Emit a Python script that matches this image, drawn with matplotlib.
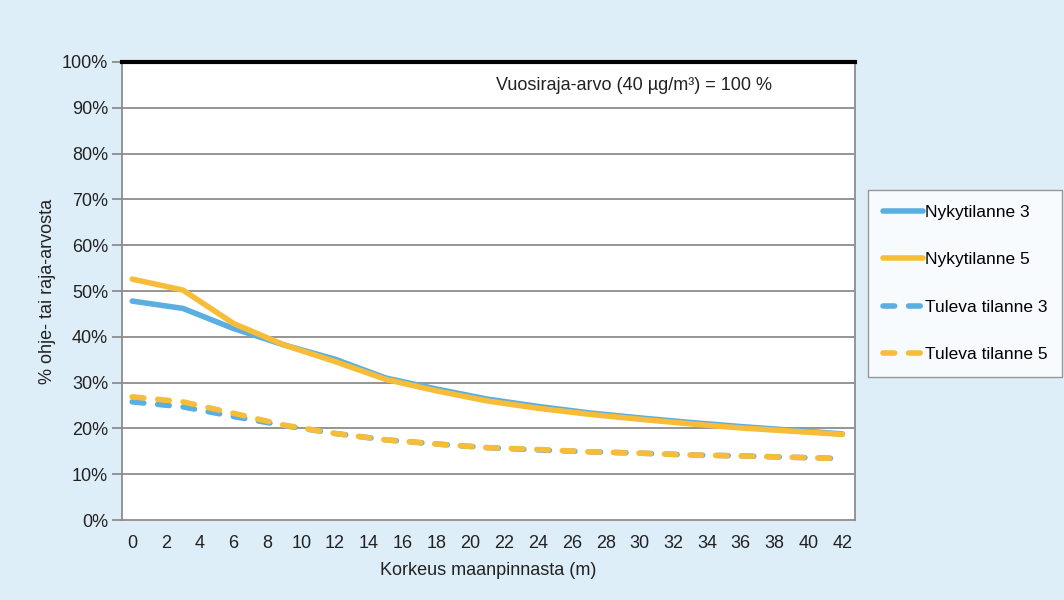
import matplotlib
matplotlib.use('Agg')
from matplotlib import pyplot as plt
from matplotlib.ticker import PercentFormatter

plt.rcParams['font.family'] = ['Liberation Sans', 'DejaVu Sans']

height = [0, 3, 6, 9, 12, 15, 18, 21, 24, 27, 30, 33, 36, 39, 42]
nyky3 = [47.8, 46.2, 41.8, 38.2, 35.1, 31.0, 28.6, 26.4, 24.8, 23.4, 22.3, 21.3, 20.4, 19.6, 18.8]
nyky5 = [52.6, 50.2, 42.9, 38.2, 34.6, 30.7, 28.2, 26.0, 24.4, 23.1, 22.0, 21.0, 20.1, 19.4, 18.7]
tuleva3 = [25.8, 24.7, 22.6, 20.6, 18.9, 17.5, 16.6, 15.8, 15.3, 14.9, 14.6, 14.2, 14.0, 13.7, 13.4]
tuleva5 = [26.9, 25.8, 23.3, 20.7, 18.9, 17.5, 16.6, 15.8, 15.4, 14.9, 14.6, 14.2, 14.0, 13.7, 13.4]
labels = ['Nykytilanne 3', 'Nykytilanne 5', 'Tuleva tilanne 3', 'Tuleva tilanne 5']

blue = '#5aaee0'
orange = '#f7bd38'
bg = '#deeef9'
fs = 13

fig = plt.figure(figsize=(10.64, 6), dpi=100, facecolor=bg)
ax = fig.add_axes([0.1147, 0.1333, 0.6889, 0.7634])
ax.set_facecolor('white')

lw = 4.0
ax.plot(height, nyky3, color=blue, lw=lw, label=labels[0], solid_capstyle='round')
ax.plot(height, nyky5, color=orange, lw=lw, label=labels[1], solid_capstyle='round')
ax.plot(height, tuleva3, color=blue, lw=lw, label=labels[2], dashes=(2.1, 2.5), dash_capstyle='round')
ax.plot(height, tuleva5, color=orange, lw=lw, label=labels[3], dashes=(2.1, 2.5), dash_capstyle='round')

ax.set_xlim(-0.6, 42.75)
ax.set_ylim(0, 100)
ax.set_xticks(range(0, 43, 2))
ax.set_yticks(range(0, 101, 10))
ax.yaxis.set_major_formatter(PercentFormatter(decimals=0))
for y in range(10, 100, 10):
    ax.axhline(y, color='#8c8c8c', lw=1.3, zorder=0)
ax.axhline(100, color='black', lw=3, clip_on=False, zorder=5)

for side in ['left', 'bottom', 'right']:
    ax.spines[side].set_color('#8c8c8c')
    ax.spines[side].set_linewidth(1.3)
ax.spines['top'].set_visible(False)
ax.tick_params(axis='y', length=7, color='#8c8c8c', width=1.3, labelsize=fs, labelcolor='#222222', pad=3)
ax.tick_params(axis='x', length=0, pad=11, labelsize=fs, labelcolor='#222222')

ax.set_xlabel('Korkeus maanpinnasta (m)', fontsize=fs, color='#222222', labelpad=7)
ax.set_ylabel('% ohje- tai raja-arvosta', fontsize=fs, color='#222222', labelpad=4)

ax.text(0.698, 0.948, 'Vuosiraja-arvo (40 µg/m³) = 100 %', transform=ax.transAxes,
        ha='center', va='center', fontsize=fs, color='#222222')

leg = fig.legend(loc='upper left', bbox_to_anchor=(0.816, 0.683), fontsize=12.5,
                 frameon=True, fancybox=False, edgecolor='#808080', facecolor='white',
                 handlelength=2.3, handletextpad=0.1, labelspacing=1.85,
                 borderpad=0.85, borderaxespad=0)
leg.get_frame().set_linewidth(1.0)

fig.savefig('out.png', dpi=100, facecolor=bg)
